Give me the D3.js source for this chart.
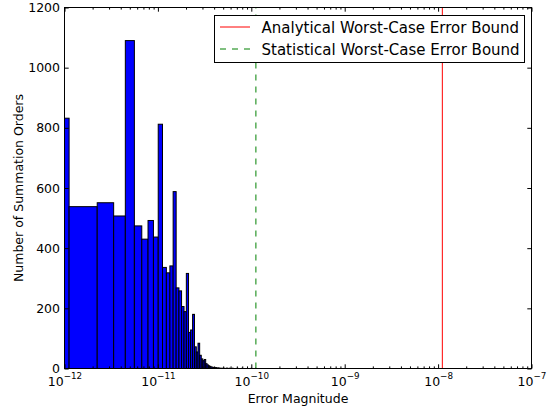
<!DOCTYPE html>
<html>
<head>
<meta charset="utf-8">
<script src="https://cdn.jsdelivr.net/npm/d3@7"></script>
<style>
  html, body { margin: 0; padding: 0; background: #fff; }
  svg { display: block; font-family: "DejaVu Sans", sans-serif; }
</style>
</head>
<body>
<svg id="chart" width="551" height="408"></svg>
<script>
// ---- data ----
const binStart = 0;
const binWidth = 1.12e-12;
const counts = [
  832, 538, 551, 507, 1090, 474, 430, 492, 437, 812,
  336, 318, 341, 588, 268, 258, 206, 189, 316, 120,
  128, 180, 72, 55, 84, 44, 32, 26, 30, 16,
  12, 9, 7, 5, 4, 3, 2, 3, 1, 2,
  1, 1, 0, 1, 0, 1, 0, 0, 1, 1,
  0, 0, 1, 0, 0, 0, 1, 0, 0, 0,
  0, 0, 0, 1, 0, 0, 0, 0, 0, 0,
  0, 1, 0, 0, 0, 0, 0, 0, 0, 0,
  0, 0, 0, 0, 0, 0, 0, 0, 0, 1,
  0, 0, 0, 0, 0, 0, 0, 0, 0, 1
];
const analyticalBound = 1.11e-8;
const statisticalBound = 1.12e-10;
const xTickExponents = [-12, -11, -10, -9, -8, -7];
const yTicks = [0, 200, 400, 600, 800, 1000, 1200];
const legendLabels = ["Analytical Worst-Case Error Bound", "Statistical Worst-Case Error Bound"];
const xLabel = "Error Magnitude";
const yLabel = "Number of Summation Orders";

// ---- layout ----
const L = 64.5, R = 531.5, T = 7.5, B = 368.5;
const svg = d3.select("#chart");
const x = d3.scaleLog().domain([1e-12, 1e-7]).range([L, R]);
const y = d3.scaleLinear().domain([0, 1200]).range([B, T]);

svg.append("defs").append("clipPath").attr("id", "plotclip")
  .append("rect").attr("x", L).attr("y", T).attr("width", R - L).attr("height", B - T);

const bins = counts.map((c, i) => ({
  x0: binStart + i * binWidth,
  x1: binStart + (i + 1) * binWidth,
  c
}));

const plot = svg.append("g").attr("clip-path", "url(#plotclip)");
plot.selectAll("rect.bar").data(bins).join("rect")
  .attr("class", "bar")
  .attr("x", d => x(Math.max(d.x0, 1e-12)))
  .attr("width", d => x(d.x1) - x(Math.max(d.x0, 1e-12)))
  .attr("y", d => y(d.c))
  .attr("height", d => y(0) - y(d.c))
  .attr("fill", "#0000ff")
  .attr("stroke", "#000")
  .attr("stroke-width", 1);

// vertical bound lines (drawn bottom to top)
plot.append("line")
  .attr("x1", x(statisticalBound)).attr("x2", x(statisticalBound))
  .attr("y1", B).attr("y2", T)
  .attr("stroke", "#008000").attr("stroke-width", 1)
  .attr("stroke-dasharray", "6,6");
plot.append("line")
  .attr("x1", x(analyticalBound)).attr("x2", x(analyticalBound))
  .attr("y1", B).attr("y2", T)
  .attr("stroke", "#ff0000").attr("stroke-width", 1);

// ---- axes ----
const majors = xTickExponents.map(e => Math.pow(10, e));
const minors = [];
for (let e = -12; e < -7; e++) for (let k = 2; k <= 9; k++) minors.push(k * Math.pow(10, e));

function styleAxis(g) {
  g.select(".domain").remove();
  g.selectAll(".tick line").attr("stroke", "#000").attr("stroke-width", 1);
  g.attr("font-family", null).attr("font-size", null);
}

const gB = svg.append("g").attr("transform", `translate(0,${B})`)
  .call(d3.axisBottom(x).tickValues(majors).tickSize(-4.2).tickSizeOuter(0).tickFormat(""));
styleAxis(gB);
svg.append("g").attr("transform", `translate(0,${B})`)
  .call(d3.axisBottom(x).tickValues(minors).tickSize(-2.1).tickSizeOuter(0).tickFormat(""))
  .call(styleAxis);
svg.append("g").attr("transform", `translate(0,${T})`)
  .call(d3.axisTop(x).tickValues(majors).tickSize(-4.2).tickSizeOuter(0).tickFormat(""))
  .call(styleAxis);
svg.append("g").attr("transform", `translate(0,${T})`)
  .call(d3.axisTop(x).tickValues(minors).tickSize(-2.1).tickSizeOuter(0).tickFormat(""))
  .call(styleAxis);

gB.selectAll(".tick").each(function(d, i) {
  const t = d3.select(this).append("text")
    .attr("y", 17.8).attr("text-anchor", "middle")
    .attr("fill", "#000").attr("font-size", 12.5)
    .style("font-family", "DejaVu Sans");
  t.append("tspan").text("10");
  t.append("tspan").attr("dy", -7.7).attr("font-size", 8.75)
    .text("\u2212" + Math.abs(xTickExponents[i]));
});

const gL = svg.append("g").attr("transform", `translate(${L},0)`)
  .call(d3.axisLeft(y).tickValues(yTicks).tickSize(-4.2).tickSizeOuter(0).tickPadding(4.5)
    .tickFormat(d3.format("d")));
styleAxis(gL);
gL.selectAll(".tick text").attr("fill", "#000").attr("font-size", 12.5)
  .style("font-family", "DejaVu Sans");
svg.append("g").attr("transform", `translate(${R},0)`)
  .call(d3.axisRight(y).tickValues(yTicks).tickSize(-4.2).tickSizeOuter(0).tickFormat(""))
  .call(styleAxis);

// spines
svg.append("rect").attr("x", L).attr("y", T).attr("width", R - L).attr("height", B - T)
  .attr("fill", "none").attr("stroke", "#000").attr("stroke-width", 1);

// axis labels
svg.append("text").attr("x", (L + R) / 2).attr("y", 403)
  .attr("text-anchor", "middle").attr("font-size", 12.5).attr("fill", "#000")
  .text(xLabel);
svg.append("text")
  .attr("transform", `translate(23,${(T + B) / 2}) rotate(-90)`)
  .attr("text-anchor", "middle").attr("font-size", 12.5).attr("fill", "#000")
  .text(yLabel);

// ---- legend ----
const lg = svg.append("g");
lg.append("rect").attr("x", 214.5).attr("y", 15.5).attr("width", 310).attr("height", 47)
  .attr("fill", "#fff").attr("stroke", "#000").attr("stroke-width", 1);
const legendStyles = [
  { color: "#ff0000", dash: null },
  { color: "#008000", dash: "6,6" }
];
legendLabels.forEach((lab, i) => {
  const cy = 27 + i * 22;
  lg.append("line").attr("x1", 220).attr("x2", 250).attr("y1", cy).attr("y2", cy)
    .attr("stroke", legendStyles[i].color).attr("stroke-width", 1)
    .attr("stroke-dasharray", legendStyles[i].dash);
  lg.append("text").attr("x", 261.5).attr("y", cy + 5.5)
    .attr("font-size", 15).attr("fill", "#000").text(lab);
});
</script>
</body>
</html>
